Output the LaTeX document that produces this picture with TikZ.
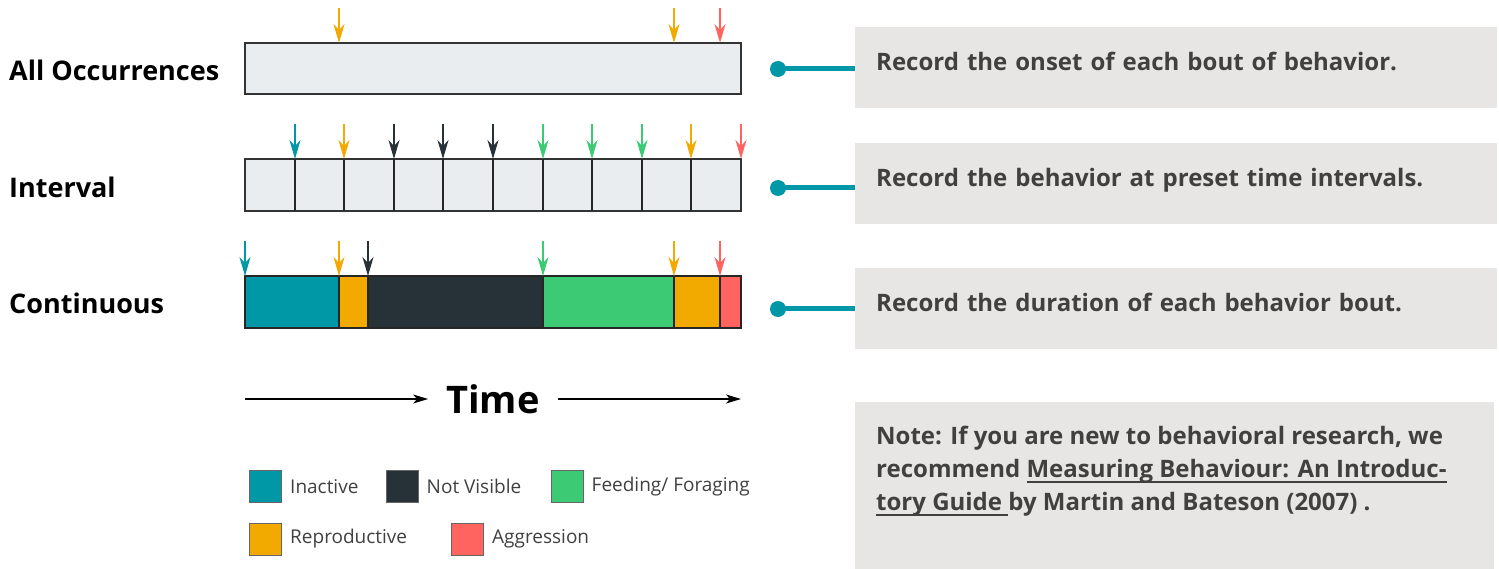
\documentclass[tikz,border=0pt]{standalone}
\usepackage{fontspec}
\setmainfont{Open Sans}
\usetikzlibrary{arrows.meta, positioning}

\definecolor{inactive}{HTML}{0097A7}
\definecolor{notvisible}{HTML}{263238}
\definecolor{feeding}{HTML}{3DCA74}
\definecolor{reproductive}{HTML}{F2A900}
\definecolor{aggression}{HTML}{FF6461}
\definecolor{barfill}{HTML}{EAEDF0}
\definecolor{notefill}{HTML}{E8E6E4}
\definecolor{notetext}{HTML}{404040}

\newcommand{\bookline}[1]{\setbox0\hbox{#1}\rlap{\rule[-5pt]{\wd0}{1.6pt}}\box0}

\tikzset{
	onset/.style = {line width=1.5pt, -{Stealth[length=19pt, width=11pt, inset=6pt]}},
	bar/.style = {draw=black!80, line width=1.5pt, fill=barfill},
	segment/.style = {draw=black!85, line width=1.5pt},
	method/.style = {anchor=west, inner sep=0pt, font=\fontsize{27}{32}\selectfont\bfseries},
	recbox/.style = {fill=notefill, anchor=north west, minimum width=639pt, minimum height=81pt,
		text width=600pt, inner xsep=21pt, text height=18pt, text depth=12pt,
		text=notetext, font=\fontsize{24}{33}\selectfont\bfseries},
	link/.style = {draw=inactive, line width=5pt},
	swatch/.style = {draw=black!60, line width=1pt, minimum size=32pt, inner sep=0pt},
	legend/.style = {inner sep=0pt, text=notetext, font=\fontsize{19}{22}\selectfont},
	timearrow/.style = {line width=1.3pt, -{Stealth[length=15pt, width=9pt, inset=4pt]}},
}

\begin{document}
\begin{tikzpicture}[x=1pt, y=-1pt]
	\useasboundingbox (0,0) rectangle (1499,569);

	% method names
	\node[method] (allocc) at (9,70) {All Occurrences};
	\node[method] (interval) at (9,187) {Interval};
	\node[method] (continuous) at (9,303) {Continuous};

	% all occurrences
	\draw[bar] (245,43) rectangle (741,94);
	\foreach \x/\c in {339/reproductive, 674/reproductive, 720/aggression}
		\draw[onset, \c] (\x,8) -- (\x,43);

	% interval
	\draw[bar] (245,159) rectangle (741,211);
	\foreach \x in {295,344,394,443,493,543,592,642,691}
		\draw[segment] (\x,159) -- (\x,211);
	\foreach \x/\c in {295/inactive, 344/reproductive, 394/notvisible, 443/notvisible, 493/notvisible,
		543/feeding, 592/feeding, 642/feeding, 691/reproductive, 741/aggression}
		\draw[onset, \c] (\x,124) -- (\x,159);

	% continuous
	\foreach \a/\b/\c in {245/339/inactive, 339/368/reproductive, 368/543/notvisible,
		543/674/feeding, 674/720/reproductive, 720/741/aggression}
		\draw[segment, fill=\c] (\a,276) rectangle (\b,328);
	\foreach \x/\c in {245/inactive, 339/reproductive, 368/notvisible, 543/feeding,
		674/reproductive, 720/aggression}
		\draw[onset, \c] (\x,241) -- (\x,276);

	% descriptions
	\node[recbox] (rec1) at (855,27) {Record the onset of each bout of behavior.};
	\node[recbox] (rec2) at (855,143) {Record the behavior at preset time intervals.};
	\node[recbox] (rec3) at (855,268) {Record the duration of each behavior bout.};

	\coordinate (d1) at (778,69);
	\coordinate (d2) at (778,188);
	\coordinate (d3) at (778,309);
	\foreach \i in {1,2,3} {
		\draw[link] (d\i) -- (d\i -| rec\i.west);
		\fill[inactive] (d\i) circle (8);
	}

	% time axis
	\node[inner xsep=18pt, text depth=0pt, font=\fontsize{38}{40}\selectfont\bfseries] (time) at (493,399) {Time};
	\coordinate (t0) at (245,399);
	\coordinate (t1) at (741,399);
	\draw[timearrow] (t0) -- (time.west);
	\draw[timearrow] (time.east) -- (t1);

	% legend
	\node[swatch, fill=inactive] (sw1) at (265.5,486.5) {};
	\node[legend, right=8pt of sw1] {Inactive};
	\node[swatch, fill=notvisible] (sw2) at (402,486.5) {};
	\node[legend, right=8pt of sw2] {Not Visible};
	\node[swatch, fill=feeding] (sw3) at (567,486.5) {};
	\node[legend, right=8pt of sw3] {Feeding/ Foraging};
	\node[swatch, fill=reproductive] (sw4) at (265.5,539) {};
	\node[legend, right=8pt of sw4] {Reproductive};
	\node[swatch, fill=aggression] (sw5) at (467.5,539) {};
	\node[legend, right=8pt of sw5] {Aggression};

	% note
	\node[fill=notefill, anchor=north west, minimum width=639pt, minimum height=167pt] (note) at (855,402) {};
	\node[below right=24pt and 21pt of note.north west, inner sep=0pt, align=left,
		text=notetext, font=\fontsize{24}{33}\selectfont\bfseries] (notetxt)
		{Note: If you are new to behavioral research, we\\
		recommend \bookline{Measuring Behaviour: An Introduc-}\\
		\bookline{tory Guide }by Martin and Bateson (2007) .};
\end{tikzpicture}
\end{document}
